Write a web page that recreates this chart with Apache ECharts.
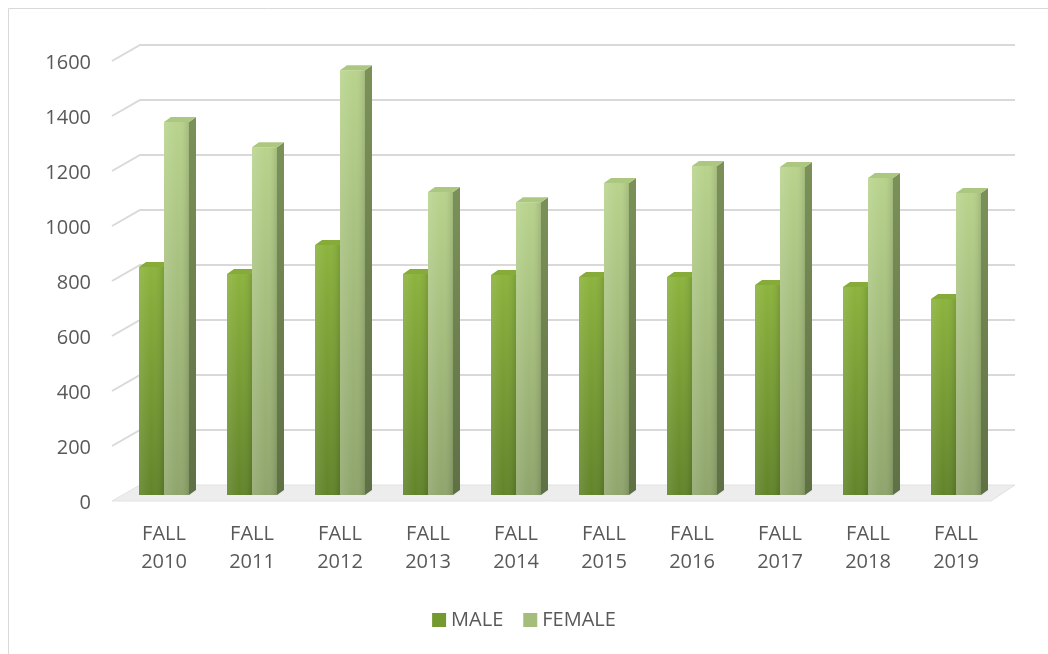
<!DOCTYPE html>
<html>
<head>
<meta charset="utf-8">
<script src="https://cdn.jsdelivr.net/npm/echarts@6/dist/echarts.min.js"></script>
<style>
  html, body { margin: 0; padding: 0; background: #fff; }
  #main { width: 1048px; height: 654px; }
</style>
</head>
<body>
<div id="main"></div>
<script>
// values
const categories = ['FALL\n2010', 'FALL\n2011', 'FALL\n2012', 'FALL\n2013', 'FALL\n2014',
  'FALL\n2015', 'FALL\n2016', 'FALL\n2017', 'FALL\n2018', 'FALL\n2019'];
const maleValues = [829, 804, 909, 804, 800, 793, 793, 764, 756, 713];
const femaleValues = [1356, 1265, 1545, 1102, 1065, 1135, 1196, 1193, 1153, 1098];
const yTicks = [0, 200, 400, 600, 800, 1000, 1200, 1400, 1600];

const chart = echarts.init(document.getElementById('main'));

// fake 3D depth (px)
const DX = 7, DY = -5;
const BAR_FRAC = 25 / 88;

const lg = (a, b) => new echarts.graphic.LinearGradient(0, 0, 0, 1, [
  { offset: 0, color: a }, { offset: 1, color: b }
]);
const lgH = (stops) => new echarts.graphic.LinearGradient(0, 0, 1, 0, stops);

const palettes = {
  male: {
    front: lg('#8cb33d', '#62842a'),
    shine: lgH([{ offset: 0, color: 'rgba(255,255,255,0.10)' }, { offset: 0.5, color: 'rgba(255,255,255,0)' }, { offset: 1, color: 'rgba(0,0,0,0.12)' }]),
    top: '#86ab38',
    side: lg('#5f7f26', '#48631b'),
    shift: -1
  },
  female: {
    front: lg('#b8d38c', '#8fa56c'),
    shine: lgH([{ offset: 0, color: 'rgba(255,255,255,0.12)' }, { offset: 0.55, color: 'rgba(255,255,255,0)' }, { offset: 1, color: 'rgba(0,0,0,0.12)' }]),
    top: '#acc880',
    side: lg('#7b9159', '#5e7045'),
    shift: 0
  }
};

function barRenderer(p) {
  return function (params, api) {
    const cat = api.value(0);
    const base = api.coord([cat, 0]);
    const top = api.coord([cat, api.value(1)]);
    const w = api.size([1, 0])[0] * BAR_FRAC;
    const x0 = base[0] + p.shift * w;
    const yt = top[1], yb = base[1];
    return {
      type: 'group',
      children: [
        { type: 'polygon', shape: { points: [[x0 + w, yt], [x0 + w + DX, yt + DY], [x0 + w + DX, yb + DY], [x0 + w, yb]] },
          style: { fill: p.side } },
        { type: 'rect', shape: { x: x0, y: yt, width: w, height: yb - yt }, style: { fill: p.front } },
        { type: 'rect', shape: { x: x0, y: yt, width: w, height: yb - yt }, style: { fill: p.shine } },
        { type: 'polygon', shape: { points: [[x0, yt], [x0 + w, yt], [x0 + w + DX, yt + DY], [x0 + DX, yt + DY]] },
          style: { fill: p.top } }
      ]
    };
  };
}

// back wall grid lines, left wall diagonals and floor
function wallRenderer(params, api) {
  const cs = params.coordSys;
  const y = api.coord([0, api.value(0)])[1];
  const left = cs.x - 8, right = cs.x + cs.width + 15;
  const children = [];
  if (api.value(0) === 0) {
    children.push({ type: 'polygon',
      shape: { points: [[left, y + 6], [left + 28, y - 10], [right, y - 10], [right - 24, y + 6]] },
      style: { fill: '#ededed', stroke: '#e2e2e2', lineWidth: 1 } });
  } else {
    children.push({ type: 'polyline',
      shape: { points: [[left, y + 6], [left + 28, y - 10], [right, y - 10]] },
      style: { stroke: '#d9d9d9', lineWidth: 2, fill: null } });
  }
  return { type: 'group', children };
}

chart.setOption({
  animation: false,
  graphic: [{
    type: 'rect', left: 8, top: 8, z: -10,
    shape: { width: 1100, height: 700 },
    style: { fill: '#fff', stroke: '#d9d9d9', lineWidth: 1 }
  }],
  grid: { left: 120, right: 48, top: 55, bottom: 159 },
  legend: {
    top: 605, left: 'center', icon: 'rect',
    itemWidth: 14, itemHeight: 14, itemGap: 20,
    data: ['MALE', 'FEMALE'],
    textStyle: { color: '#595959', fontSize: 20, fontFamily: 'Open Sans' }
  },
  xAxis: {
    type: 'category', data: categories,
    axisLine: { show: false }, axisTick: { show: false },
    axisLabel: { color: '#595959', fontSize: 20, lineHeight: 28, margin: 25, fontFamily: 'Open Sans' }
  },
  yAxis: {
    type: 'value', min: 0, max: 1600, interval: 200,
    splitLine: { show: false }, axisLine: { show: false }, axisTick: { show: false },
    axisLabel: { color: '#595959', fontSize: 20, margin: 29, verticalAlign: 'top', lineHeight: 16,
      fontFamily: 'Open Sans', formatter: v => String(v) }
  },
  series: [
    { type: 'custom', name: 'wall', silent: true, z: 1, clip: false,
      data: yTicks.map(v => [v]), encode: { y: 0 }, renderItem: wallRenderer },
    { type: 'custom', name: 'MALE', z: 3, clip: false,
      itemStyle: { color: '#74992f' },
      data: maleValues.map((v, i) => [i, v]), encode: { x: 0, y: 1 },
      renderItem: barRenderer(palettes.male) },
    { type: 'custom', name: 'FEMALE', z: 4, clip: false,
      itemStyle: { color: '#a4bd7a' },
      data: femaleValues.map((v, i) => [i, v]), encode: { x: 0, y: 1 },
      renderItem: barRenderer(palettes.female) }
  ]
});
</script>
</body>
</html>
